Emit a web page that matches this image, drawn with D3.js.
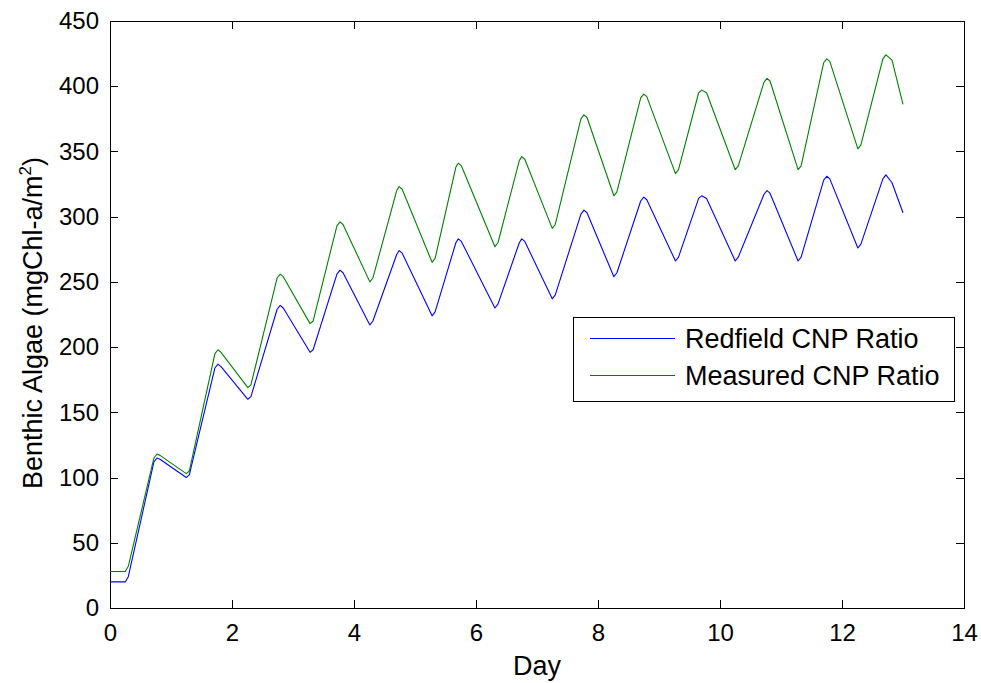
<!DOCTYPE html>
<html>
<head>
<meta charset="utf-8">
<script src="https://cdn.jsdelivr.net/npm/d3@7"></script>
<style>
  body { margin: 0; background: #fff; }
  svg { display: block; font-family: "Liberation Sans", Arial, sans-serif; }
  .axis path, .axis line { stroke: #000; shape-rendering: crispEdges; }
  .axis text { fill: #000; font-size: 24px; }
</style>
</head>
<body>
<svg id="chart" width="981" height="683"></svg>
<script>
// values
var days     = [0, 0.25, 0.3, 0.72, 0.77, 0.82, 1.25, 1.3, 1.72, 1.77, 1.82, 2.26, 2.31, 2.74, 2.79, 2.84, 3.28, 3.33, 3.72, 3.77, 3.82, 4.26, 4.31, 4.7, 4.74, 4.79, 5.28, 5.33, 5.67, 5.71, 5.76, 6.31, 6.36, 6.71, 6.75, 6.8, 7.25, 7.3, 7.72, 7.77, 7.82, 8.26, 8.31, 8.7, 8.75, 8.8, 9.27, 9.32, 9.65, 9.7, 9.78, 10.25, 10.3, 10.72, 10.77, 10.82, 11.28, 11.33, 11.7, 11.75, 11.8, 12.26, 12.31, 12.67, 12.72, 12.82, 13.0]
var redfield = [20, 20, 24, 112, 115, 114, 100, 102, 184, 187, 185, 160, 162, 229, 232, 230, 196, 198, 256, 259, 257, 217, 220, 271, 274, 272, 224, 227, 280, 283, 281, 230, 233, 280, 283, 281, 237, 240, 302, 305, 303, 254, 257, 312, 315, 313, 266, 269, 314, 316, 314, 266, 269, 317, 320, 318, 266, 269, 328, 331, 329, 276, 279, 329, 332, 326, 303]
var measured = [28, 28, 32, 115, 118, 117, 103, 105, 195, 198, 196, 169, 171, 253, 256, 254, 218, 220, 293, 296, 294, 250, 253, 320, 323, 321, 265, 268, 338, 341, 339, 277, 280, 343, 346, 344, 291, 294, 375, 378, 376, 316, 319, 391, 394, 392, 333, 336, 395, 397, 395, 336, 339, 403, 406, 404, 336, 339, 418, 421, 419, 352, 355, 421, 424, 420, 386]

var xTicks = [0, 2, 4, 6, 8, 10, 12, 14]
var yTicks = [0, 50, 100, 150, 200, 250, 300, 350, 400, 450]

var seriesNames = ['Redfield CNP Ratio', 'Measured CNP Ratio']
var seriesColors = ['#0000ff', '#008000']

var pl = 110, pr = 964, pt = 21, pb = 608

var svg = d3.select('#chart')

var x = d3.scaleLinear().domain([0, 14]).range([pl, pr])
var y = d3.scaleLinear().domain([0, 450]).range([pb, pt])

// axes, ticks point inward like matlab
svg.append('g').attr('class', 'axis')
  .attr('transform', `translate(0,${pb})`)
  .call(d3.axisBottom(x).tickValues(xTicks).tickSizeInner(-8).tickSizeOuter(0).tickPadding(16))

svg.append('g').attr('class', 'axis')
  .attr('transform', `translate(0,${pt})`)
  .call(d3.axisTop(x).tickValues(xTicks).tickSizeInner(-8).tickSizeOuter(0).tickFormat(''))

svg.append('g').attr('class', 'axis')
  .attr('transform', `translate(${pl},0)`)
  .call(d3.axisLeft(y).tickValues(yTicks).tickSizeInner(-8).tickSizeOuter(0).tickPadding(11))

svg.append('g').attr('class', 'axis')
  .attr('transform', `translate(${pr},0)`)
  .call(d3.axisRight(y).tickValues(yTicks).tickSizeInner(-8).tickSizeOuter(0).tickFormat(''))

var line = d3.line()
  .x(d => x(d[0]))
  .y(d => y(d[1]))

;[redfield, measured].forEach((vals, i) => {
  svg.append('path')
    .datum(days.map((d, j) => [d, vals[j]]))
    .attr('d', line)
    .attr('fill', 'none')
    .attr('stroke', seriesColors[i])
    .attr('stroke-width', 1.1)
    .attr('stroke-linejoin', 'round')
})

// labels
svg.append('text')
  .attr('x', (pl + pr) / 2)
  .attr('y', 675)
  .attr('text-anchor', 'middle')
  .style('font-size', '27px')
  .text('Day')

var yl = svg.append('text')
  .attr('transform', 'translate(42,323) rotate(-90)')
  .attr('text-anchor', 'middle')
  .style('font-size', '27px')
yl.append('tspan').text('Benthic Algae (mgChl-a/m')
yl.append('tspan').attr('dy', -11).style('font-size', '17px').text('2')
yl.append('tspan').attr('dy', 11).text(')')

// legend
var lg = svg.append('g')
lg.append('rect')
  .attr('x', 573.5).attr('y', 317.5)
  .attr('width', 381).attr('height', 84)
  .attr('fill', '#fff').attr('stroke', '#000')

seriesNames.forEach((name, i) => {
  var ly = 338 + i * 37
  lg.append('line')
    .attr('x1', 590).attr('x2', 675)
    .attr('y1', ly + 0.5).attr('y2', ly + 0.5)
    .attr('stroke', seriesColors[i])
  lg.append('text')
    .attr('x', 685).attr('y', ly + 10)
    .style('font-size', '27px')
    .text(name)
})
</script>
</body>
</html>
